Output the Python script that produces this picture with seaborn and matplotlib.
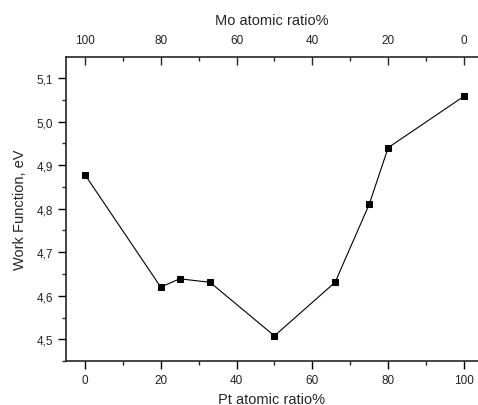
import matplotlib
matplotlib.use("Agg")
import matplotlib.pyplot as plt
from matplotlib.ticker import MultipleLocator, FixedLocator, FuncFormatter
import pandas as pd
import seaborn as sns

# Pt content (%) and measured work function (eV)
pt_ratio = [0, 20, 25, 33, 50, 66, 75, 80, 100]
work_function = [4.878, 4.620, 4.639, 4.631, 4.508, 4.631, 4.810, 4.940, 5.058]
mo_ticks = [0, 20, 40, 60, 80, 100]
mo_minor = [10, 30, 50, 70, 90]

df = pd.DataFrame({"Pt": pt_ratio, "WF": work_function})

sns.set_style("ticks")
plt.rcParams["font.family"] = ["Liberation Sans", "DejaVu Sans"]
plt.rcParams["axes.linewidth"] = 1.2

fig = plt.figure(figsize=(4.78, 4.06), dpi=100)
ax = fig.add_axes([0.138, 0.108, 0.862, 0.749])

sns.lineplot(data=df, x="Pt", y="WF", ax=ax, color="black", linewidth=0.8,
             marker="s", markersize=5, markeredgecolor="black")

ax.set_xlim(-5, 103.7)
ax.set_ylim(4.45, 5.148)
ax.xaxis.set_major_locator(MultipleLocator(20))
ax.xaxis.set_minor_locator(MultipleLocator(10))
ax.yaxis.set_major_locator(MultipleLocator(0.1))
ax.yaxis.set_minor_locator(MultipleLocator(0.05))
ax.yaxis.set_major_formatter(FuncFormatter(lambda v, p: f"{v:.1f}".replace(".", ",")))

ax.tick_params(which="major", direction="out", length=6, width=1, labelsize=8.5,
               colors="black", labelcolor="#222222")
ax.tick_params(which="minor", direction="out", length=3, width=1)
ax.spines["right"].set_visible(False)
ax.spines["top"].set_visible(False)

ax.set_xlabel("Pt atomic ratio%", fontsize=10.5, labelpad=4)
ax.set_ylabel("Work Function, eV", fontsize=10.5, labelpad=7)

top = ax.secondary_xaxis("top", functions=(lambda x: 100 - x, lambda x: 100 - x))
top.xaxis.set_major_locator(FixedLocator(mo_ticks))
top.xaxis.set_minor_locator(FixedLocator(mo_minor))
top.tick_params(which="major", direction="in", length=6, width=1, labelsize=8.5,
                pad=8, labelcolor="#222222")
top.tick_params(which="minor", direction="in", length=3, width=1)
top.spines["top"].set_linewidth(1.2)
top.set_xlabel("Mo atomic ratio%", fontsize=10.5, labelpad=7)

fig.savefig("out.png", dpi=100)
plt.close(fig)
